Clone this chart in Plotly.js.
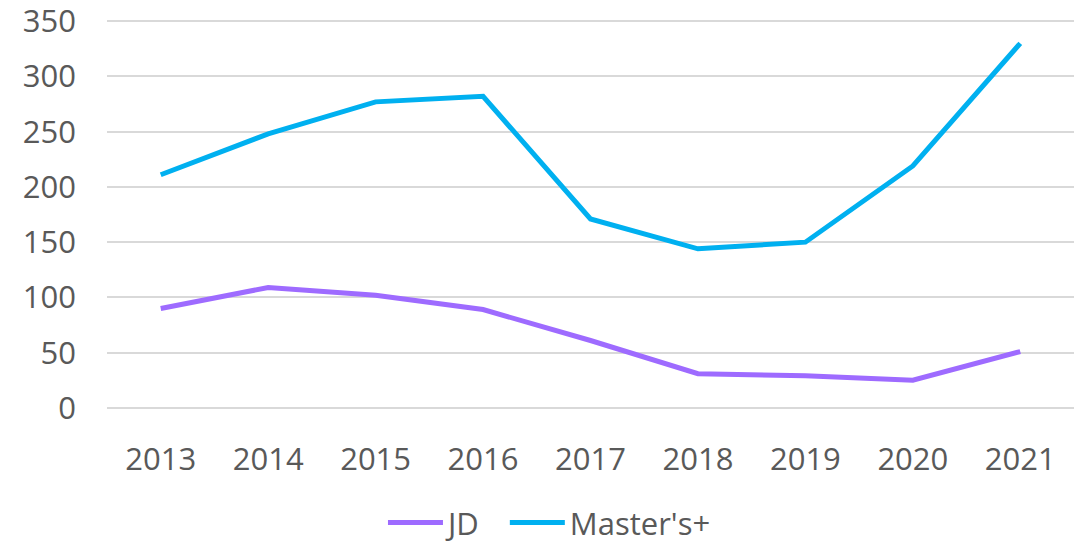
<!DOCTYPE html>
<html><head><meta charset="utf-8">
<script src="https://cdn.plot.ly/plotly-3.0.1.min.js"></script>
<style>html,body{margin:0;padding:0;background:#fff;}#chart{width:1088px;height:543px;}</style>
</head><body><div id="chart"></div>
<script>
const years = ["2013","2014","2015","2016","2017","2018","2019","2020","2021"];
const jd = [90, 109, 102, 89, 61, 31, 29, 25, 51];
const masters = [211, 248, 277, 282, 171, 144, 150, 219, 330];
const seriesNames = ["JD", "Master's+"];
const yTicks = [0, 50, 100, 150, 200, 250, 300, 350];

const font = {family: "Open Sans, Liberation Sans, sans-serif", color: "#595959", size: 31};
const traces = [
  {x: years, y: jd, name: seriesNames[0], type: "scatter", mode: "lines", legend: "legend",
   line: {color: "#9E6BFF", width: 5, shape: "linear"}},
  {x: years, y: masters, name: seriesNames[1], type: "scatter", mode: "lines", legend: "legend2",
   line: {color: "#00B0F0", width: 5, shape: "linear"}}
];
const legBase = {orientation: "h", xref: "container", yref: "container", xanchor: "left", yanchor: "middle",
                 y: 0.037, font: font, itemwidth: 55, bgcolor: "rgba(0,0,0,0)"};
const layout = {
  width: 1088, height: 543,
  margin: {l: 107, r: 14, t: 19, b: 134, autoexpand: false},
  paper_bgcolor: "#fff", plot_bgcolor: "#fff",
  font: font,
  showlegend: true,
  legend: Object.assign({}, legBase, {x: 0.352}),
  legend2: Object.assign({}, legBase, {x: 0.464}),
  xaxis: {type: "category", range: [-0.5, 8.5], showgrid: false, zeroline: false, showline: false,
          automargin: false, ticks: "", tickfont: font, ticklabelstandoff: 29},
  yaxis: {range: [-1, 352], tickvals: yTicks, showgrid: true, gridcolor: "#d9d9d9", gridwidth: 2,
          ticklabeloverflow: "allow",
          automargin: false, zeroline: false, showline: false, ticks: "", tickfont: font, ticklabelstandoff: 30}
};
Plotly.newPlot("chart", traces, layout, {displayModeBar: false, staticPlot: true});
</script></body></html>
